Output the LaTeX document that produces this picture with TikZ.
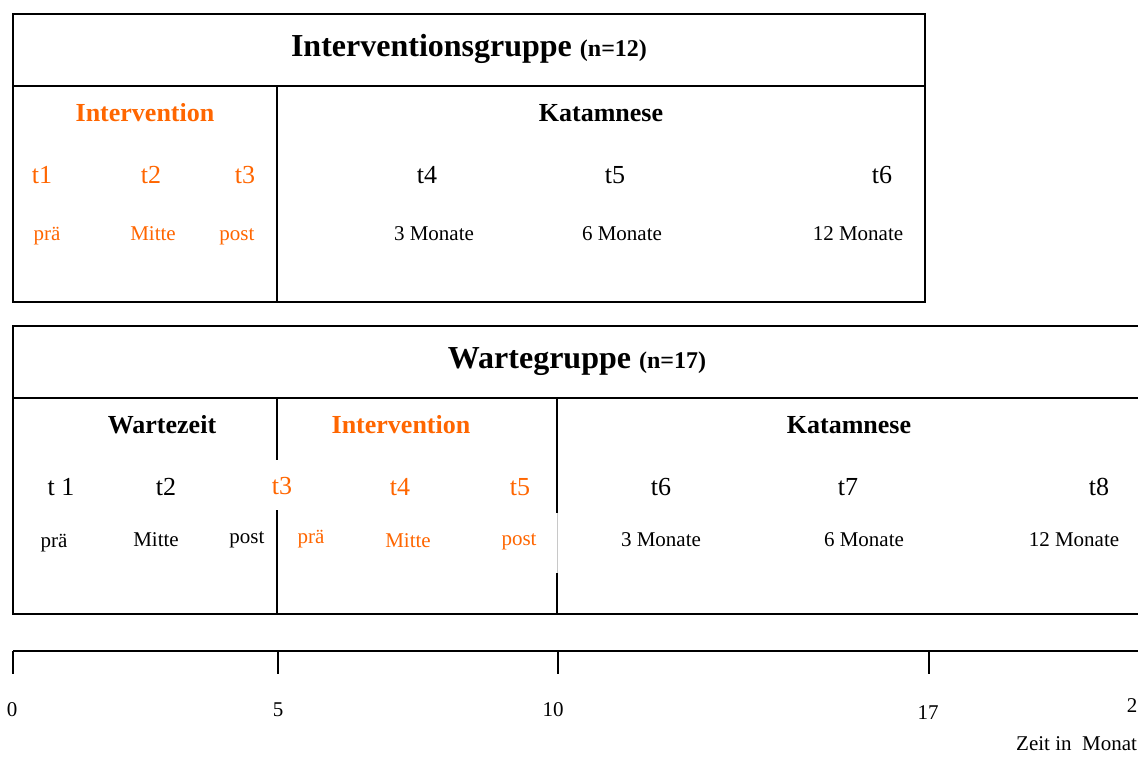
\documentclass[tikz,border=0pt]{standalone}
\usepackage{fontspec}
\setmainfont{Liberation Serif}
\definecolor{orng}{RGB}{255,102,0}
\definecolor{lgray}{RGB}{200,200,200}
\begin{document}
\begin{tikzpicture}[x=1pt,y=-1pt,
  frame/.style={line width=2pt,draw=black},
  lbl/.style={inner sep=0pt,anchor=base},
  ttl/.style={lbl,font=\fontsize{32}{36}\selectfont\bfseries},
  ttlsmall/.style={font=\fontsize{24}{28}\selectfont\bfseries},
  hdr/.style={lbl,font=\fontsize{26}{30}\selectfont\bfseries},
  tp/.style={lbl,font=\fontsize{26}{30}\selectfont},
  sub/.style={lbl,font=\fontsize{21}{25}\selectfont},
  ax/.style={lbl,font=\fontsize{21}{25}\selectfont},
  tick/.style={line width=2pt}]
\useasboundingbox (0,0) rectangle (1138,758);
\clip (0,0) rectangle (1138,758);
\fill[white] (0,0) rectangle (1138,758);

% ---------- Box 1: Interventionsgruppe ----------
\draw[frame] (13,14) rectangle (925,302);
\draw[frame] (13,86) -- (925,86);
\draw[frame] (277,86) -- (277,302);
\node[ttl] (t1title) at (469,56.5) {Interventionsgruppe {\fontsize{24}{28}\selectfont(n=12)}};
\node[hdr,text=orng] (a1) at (145,121.5) {Intervention};
\node[hdr] (a2) at (601,121.5) {Katamnese};
\node[tp,text=orng] (a3) at (42,183) {t1};
\node[tp,text=orng] (a4) at (151,183) {t2};
\node[tp,text=orng] (a5) at (245,183) {t3};
\node[tp] (a6) at (427,183) {t4};
\node[tp] (a7) at (615,183) {t5};
\node[tp] (a8) at (882,183) {t6};
\node[sub,text=orng] (a9) at (47,240) {prä};
\node[sub,text=orng] (a10) at (153,240) {Mitte};
\node[sub,text=orng] (a11) at (237,240) {post};
\node[sub] (a12) at (434,240) {3 Monate};
\node[sub] (a13) at (622,240) {6 Monate};
\node[sub] (a14) at (858,240) {12 Monate};

% ---------- Box 2: Wartegruppe ----------
\draw[frame] (1160,326) -- (13,326) -- (13,614) -- (1160,614);
\draw[frame] (13,398) -- (1160,398);
\draw[frame] (277,398) -- (277,460);
\draw[frame] (277,510) -- (277,614);
\draw[frame] (557,398) -- (557,513);
\draw[line width=0.8pt,draw=lgray] (557.5,513) -- (557.5,573);
\draw[frame] (557,573) -- (557,614);
\node[ttl] (b0) at (577,368.5) {Wartegruppe {\fontsize{24}{28}\selectfont(n=17)}};
\node[hdr] (b1) at (162,433) {Wartezeit};
\node[hdr,text=orng] (b2) at (401,433) {Intervention};
\node[hdr] (b3) at (849,433) {Katamnese};
\node[tp] (b4) at (61,495) {t 1};
\node[tp] (b5) at (166,495) {t2};
\node[tp,text=orng] (b6) at (282,494) {t3};
\node[tp,text=orng] (b7) at (400,495) {t4};
\node[tp,text=orng] (b8) at (520,495) {t5};
\node[tp] (b9) at (661,495) {t6};
\node[tp] (b10) at (848,495) {t7};
\node[tp] (b11) at (1099,495) {t8};
\node[sub] (b12) at (54,547) {prä};
\node[sub] (b13) at (156,546) {Mitte};
\node[sub] (b14) at (247,543) {post};
\node[sub,text=orng] (b15) at (311,543) {prä};
\node[sub,text=orng] (b16) at (408,547) {Mitte};
\node[sub,text=orng] (b17) at (519,545) {post};
\node[sub] (b18) at (661,546) {3 Monate};
\node[sub] (b19) at (864,546) {6 Monate};
\node[sub] (b20) at (1074,546) {12 Monate};

% ---------- Time axis ----------
\coordinate (z0) at (13,651);
\coordinate (zend) at (1160,651);
\draw[tick] (z0) -- (zend);
\foreach \x/\n in {13/k0,278/k5,558/k10,929/k17}{
  \coordinate (\n) at (\x,651);
  \draw[tick] (\n) -- ++(0,23);
}
\node[ax] (l0) at (12,716) {0};
\node[ax] (l5) at (278,716) {5};
\node[ax] (l10) at (553,716) {10};
\node[ax] (l17) at (928,719) {17};
\node[ax] (l24) at (1132,712) {2};
\node[ax,anchor=base west] (lz) at (1016,750) {Zeit in \ Monat};
\end{tikzpicture}
\end{document}
